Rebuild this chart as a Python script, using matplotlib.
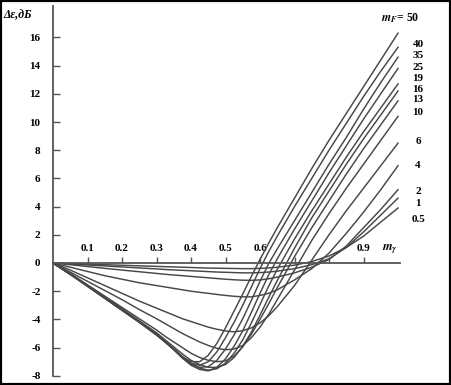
import matplotlib
matplotlib.use('Agg')
import matplotlib.pyplot as plt
from matplotlib.patches import Rectangle

# values (finer steps around the minima)
m_gamma = [0, 0.05, 0.1, 0.15, 0.2, 0.25, 0.3, 0.325, 0.35, 0.375, 0.4,
           0.425, 0.45, 0.475, 0.5, 0.525, 0.55, 0.575, 0.6, 0.625, 0.65,
           0.7, 0.75, 0.8, 0.85, 0.9, 0.95, 1.0]

mf_names = ['50', '40', '35', '25', '19', '16', '13', '10', '6', '4', '2', '1', '0.5']

d_50 = [0, -0.8, -1.65, -2.5, -3.35, -4.2, -5.1, -5.6, -6.1, -6.65, -7.0,
        -7.0, -6.55, -5.7, -4.6, -3.4, -2.2, -0.95, 0.25, 1.4, 2.5,
        4.6, 6.7, 8.7, 10.6, 12.5, 14.4, 16.3]
d_40 = [0, -0.8, -1.65, -2.5, -3.35, -4.2, -5.1, -5.6, -6.1, -6.65, -7.1,
        -7.25, -7.0, -6.3, -5.3, -4.2, -3.0, -1.7, -0.4, 0.8, 1.9,
        4.0, 6.0, 8.0, 9.9, 11.8, 13.6, 15.3]
d_35 = [0, -0.8, -1.65, -2.5, -3.35, -4.2, -5.1, -5.6, -6.15, -6.7, -7.15,
        -7.4, -7.35, -6.9, -6.1, -5.1, -3.95, -2.65, -1.3, -0.05, 1.0,
        3.0, 5.0, 7.0, 8.9, 10.9, 12.8, 14.6]
d_25 = [0, -0.8, -1.6, -2.45, -3.3, -4.15, -5.05, -5.6, -6.15, -6.75, -7.25,
        -7.55, -7.65, -7.4, -6.8, -5.9, -4.8, -3.5, -2.15, -0.85, 0.3,
        2.4, 4.4, 6.4, 8.3, 10.2, 12.0, 13.8]
d_19 = [0, -0.8, -1.6, -2.45, -3.3, -4.15, -5.0, -5.55, -6.1, -6.65, -7.15,
        -7.45, -7.6, -7.5, -7.1, -6.4, -5.45, -4.25, -2.95, -1.65, -0.45,
        1.7, 3.7, 5.6, 7.5, 9.3, 11.0, 12.7]
d_16 = [0, -0.78, -1.58, -2.4, -3.25, -4.1, -4.95, -5.45, -5.95, -6.45, -6.9,
        -7.2, -7.4, -7.4, -7.2, -6.7, -5.9, -4.9, -3.7, -2.45, -1.25,
        1.05, 3.2, 5.1, 7.0, 8.8, 10.5, 12.2]
d_13 = [0, -0.75, -1.55, -2.35, -3.15, -3.95, -4.75, -5.2, -5.6, -6.0, -6.4,
        -6.7, -6.9, -7.0, -6.95, -6.6, -5.95, -5.05, -4.0, -2.9, -1.75,
        0.45, 2.5, 4.4, 6.3, 8.1, 9.8, 11.5]
d_10 = [0, -0.65, -1.3, -1.95, -2.6, -3.3, -3.95, -4.3, -4.65, -5.0, -5.3,
        -5.6, -5.85, -6.05, -6.15, -6.1, -5.85, -5.3, -4.55, -3.65, -2.6,
        -0.5, 1.6, 3.5, 5.3, 7.0, 8.7, 10.4]
d_6 = [0, -0.5, -1.05, -1.6, -2.15, -2.7, -3.2, -3.45, -3.7, -3.95, -4.15,
       -4.35, -4.55, -4.7, -4.82, -4.88, -4.8, -4.6, -4.25, -3.75, -3.1,
       -1.6, 0.2, 2.0, 3.7, 5.3, 6.9, 8.5]
d_4 = [0, -0.3, -0.6, -0.9, -1.15, -1.4, -1.6, -1.7, -1.8, -1.9, -2.0,
       -2.08, -2.15, -2.23, -2.3, -2.36, -2.4, -2.4, -2.3, -2.15, -1.9,
       -1.2, -0.4, 0.7, 2.1, 3.6, 5.2, 6.9]
d_2 = [0, -0.12, -0.25, -0.38, -0.5, -0.62, -0.74, -0.8, -0.85, -0.9, -0.95,
       -1.0, -1.05, -1.1, -1.15, -1.19, -1.22, -1.23, -1.2, -1.12, -1.0,
       -0.7, -0.3, 0.25, 1.2, 2.5, 3.8, 5.2]
d_1 = [0, -0.07, -0.14, -0.21, -0.28, -0.35, -0.42, -0.46, -0.49, -0.52, -0.55,
       -0.58, -0.61, -0.64, -0.66, -0.68, -0.7, -0.7, -0.68, -0.64, -0.58,
       -0.4, -0.12, 0.3, 1.1, 2.2, 3.4, 4.6]
d_05 = [0, -0.04, -0.08, -0.12, -0.16, -0.2, -0.24, -0.26, -0.28, -0.3, -0.32,
        -0.34, -0.36, -0.37, -0.38, -0.39, -0.4, -0.4, -0.38, -0.35, -0.3,
        -0.15, 0.1, 0.5, 1.1, 1.9, 2.9, 3.9]

curves = [d_50, d_40, d_35, d_25, d_19, d_16, d_13, d_10, d_6, d_4, d_2, d_1, d_05]

# where the m_F labels sit on the right (data y)
label_y = [17.4, 15.5, 14.7, 13.9, 13.1, 12.3, 11.6, 10.7, 8.65, 6.9, 5.1, 4.25, 3.1]

x_ticks = [0.1, 0.2, 0.3, 0.4, 0.5, 0.6, 0.7, 0.8, 0.9]
x_ticklabels = ['0.1', '0.2', '0.3', '0.4', '0.5', '0.6', '', '', '0.9']
y_ticks = [-8, -6, -4, -2, 0, 2, 4, 6, 8, 10, 12, 14, 16]

plt.rcParams['font.family'] = 'Liberation Serif'
plt.rcParams['font.weight'] = 'bold'
plt.rcParams['mathtext.fontset'] = 'stix'
plt.rcParams['axes.unicode_minus'] = False

W, H = 451, 385
fig = plt.figure(figsize=(W / 100, H / 100), dpi=100)
# pixel mapping: x=0 at 53 px, 345 px per unit; y=0 at 263 px, 14.1 px per unit
x0, xs = 53, 345
y0, ys = 263, 14.1
xlim = (0, 1.05)
ylim = (-8.05, 18.5)
left = x0 / W
width = (xlim[1] - xlim[0]) * xs / W
bottom = (H - (y0 - ylim[0] * ys)) / H
height = (ylim[1] - ylim[0]) * ys / H
ax = fig.add_axes([left, bottom, width, height])
ax.set_xlim(*xlim)
ax.set_ylim(*ylim)

line_col = '#474747'
for vals in curves:
    ax.plot(m_gamma, vals, color=line_col, lw=1.05, solid_joinstyle='round')

# axes drawn through the origin
for s in ['right', 'bottom']:
    ax.spines[s].set_visible(False)
ax.spines['left'].set_position(('data', 0))
ax.spines['left'].set_bounds(-8, 18.2)
ax.spines['top'].set_position(('data', 0))
ax.spines['top'].set_bounds(0, 1.005)
for s in ['left', 'top']:
    ax.spines[s].set_color('#555555')
    ax.spines[s].set_linewidth(1.3)

ax.xaxis.set_ticks_position('top')
ax.set_xticks(x_ticks)
ax.set_xticklabels(x_ticklabels)
ax.tick_params(axis='x', direction='out', length=4, width=1, color='#555555',
               pad=3, labelsize=8)
ax.set_yticks(y_ticks)
ax.set_yticklabels([str(v) for v in y_ticks])
ax.tick_params(axis='y', direction='in', length=5, width=1, color='#555555',
               pad=9, labelsize=8)

# curve labels on the right
for i, (name, ly) in enumerate(zip(mf_names, label_y)):
    if i == 0:
        ax.text(0.95, ly, r'$m_F$= 50', fontsize=8.5, fontweight='bold',
                ha='left', va='center', clip_on=False)
    else:
        ax.text(1.058, ly, name, fontsize=8, fontweight='bold',
                ha='center', va='center', clip_on=False)

ax.text(0.955, 1.0, r'$m_\gamma$', fontsize=9, ha='left', va='center')
ax.text(-0.145, 17.6, 'Δε,дБ', fontsize=8.5, fontweight='bold',
        fontstyle='italic', ha='left', va='center', clip_on=False)

fig.patches.append(Rectangle((0, 0), 1, 1, transform=fig.transFigure,
                             fill=False, edgecolor='black', lw=3))

fig.savefig('out.png', dpi=100)
